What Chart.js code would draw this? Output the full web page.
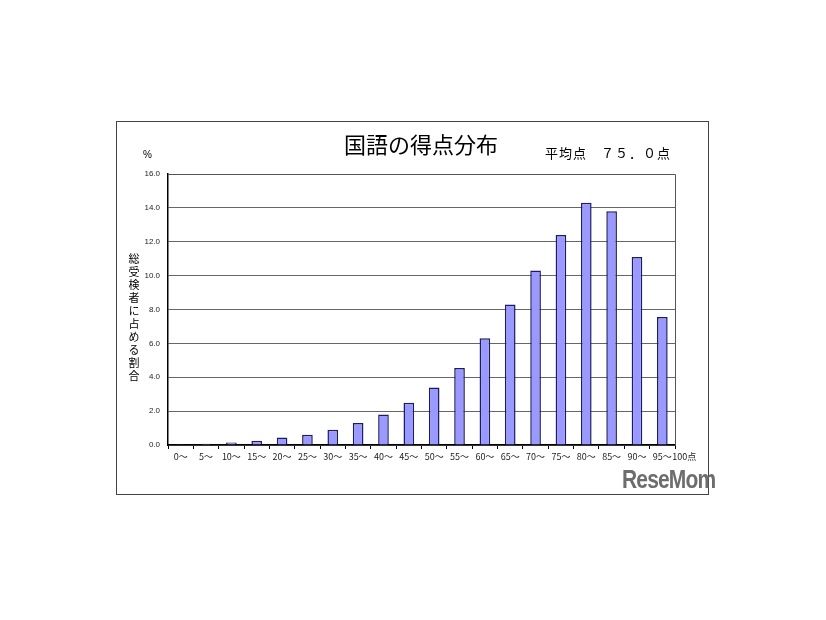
<!DOCTYPE html>
<html lang="ja">
<head>
<meta charset="utf-8">
<script src="https://cdn.jsdelivr.net/npm/chart.js@4/dist/chart.umd.min.js"></script>
<style>
  body { margin: 0; background: #fff; font-family: "Noto Sans CJK JP", "Noto Sans", sans-serif; }
  #wrap { position: relative; width: 826px; height: 620px; }
  #frame { position: absolute; left: 116px; top: 121px; width: 591px; height: 372px; border: 1px solid #444; }
  .txt { position: absolute; color: #000; white-space: nowrap; }
  #title { left: 300px; width: 242px; top: 129px; text-align: center; font-size: 22px; line-height: 28px; }
  #mean { left: 545px; top: 145px; font-size: 13px; letter-spacing: 1px; line-height: 16px; }
  #pct { left: 143px; top: 149px; font-size: 10px; font-family: "Liberation Sans", sans-serif; }
  #ylab { left: 127px; top: 253px; font-size: 11px; writing-mode: vertical-rl; text-orientation: upright; letter-spacing: 2px; line-height: 14px; }
  #logo { left: 622px; top: 465px; font-size: 25px; font-weight: bold; color: #6d6d6d; font-family: "Liberation Sans", sans-serif; letter-spacing: -1px; transform: scaleX(0.84); transform-origin: left top; }
  canvas { position: absolute; left: 0; top: 0; }
</style>
</head>
<body>
<div id="wrap">
  <div id="frame"></div>
  <canvas id="scoreChart" width="826" height="620"></canvas>
  <div class="txt" id="title">国語の得点分布</div>
  <div class="txt" id="mean">平均点　７５．０点</div>
  <div class="txt" id="pct">%</div>
  <div class="txt" id="ylab">総受検者に占める割合</div>
  <div class="txt" id="logo">ReseMom</div>
</div>
<script>
const categories = ["0～", "5～", "10～", "15～", "20～", "25～", "30～", "35～", "40～", "45～",
                    "50～", "55～", "60～", "65～", "70～", "75～", "80～", "85～", "90～", "95～"];
const shares = [0.05, 0.08, 0.15, 0.25, 0.45, 0.6, 0.9, 1.3, 1.8, 2.5,
                3.4, 4.55, 6.3, 8.3, 10.3, 12.4, 14.3, 13.8, 11.1, 7.55];
const yTicks = [0, 2, 4, 6, 8, 10, 12, 14, 16];
const lastSuffix = "100点";

const frameBox = {
    id: "frameBox",
    afterDatasetsDraw(chart) {
        const { ctx, chartArea: a } = chart;
        ctx.save();
        ctx.strokeStyle = "#555";
        ctx.lineWidth = 1;
        ctx.beginPath();
        ctx.moveTo(a.left, a.top + 0.5);
        ctx.lineTo(a.right + 0.5, a.top + 0.5);
        ctx.lineTo(a.right + 0.5, a.bottom);
        ctx.stroke();
        // "100点" after the last tick label
        const xs = chart.scales.x;
        const x = xs.getPixelForValue(categories.length - 1);
        ctx.fillStyle = "#222";
        ctx.font = "9px 'Noto Sans CJK JP', sans-serif";
        ctx.textBaseline = "middle";
        ctx.fillText(lastSuffix, x + 10, a.bottom + 12);
        ctx.restore();
    },
};

new Chart(document.getElementById("scoreChart").getContext("2d"), {
    type: "bar",
    data: {
        labels: categories,
        datasets: [{
            label: "割合",
            data: shares,
            backgroundColor: "#9999ff",
            borderColor: "#1c1c5e",
            borderWidth: 1.5,
            borderSkipped: "bottom",
            categoryPercentage: 1,
            barPercentage: 0.42,
        }],
    },
    options: {
        responsive: false,
        animation: false,
        layout: { padding: { left: 120, right: 151, top: 174, bottom: 145 } },
        plugins: { legend: { display: false }, tooltip: { enabled: false } },
        scales: {
            x: {
                offset: true,
                grid: { offset: true, drawOnChartArea: false, tickLength: 4, color: "#000" },
                border: { color: "#000", width: 1.5 },
                ticks: {
                    color: "#222",
                    font: { size: 9, family: "'Noto Sans CJK JP', sans-serif" },
                    maxRotation: 0,
                    autoSkip: false,
                    padding: 2,
                },
                afterFit(s) { s.height = 30; },
            },
            y: {
                min: 0,
                max: 16,
                afterBuildTicks(s) { s.ticks = yTicks.map((v) => ({ value: v })); },
                grid: { color: "#666", lineWidth: 1, tickLength: 0 },
                border: { color: "#000", width: 1.5 },
                ticks: {
                    color: "#222",
                    padding: 8,
                    font: { size: 8, family: "'Liberation Sans', sans-serif" },
                    callback: (v) => v.toFixed(1),
                },
                afterFit(s) { s.width = 48; },
            },
        },
    },
    plugins: [frameBox],
});
</script>
</body>
</html>
